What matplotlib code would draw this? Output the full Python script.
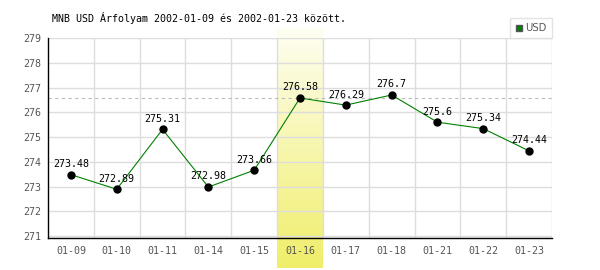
import numpy as np
import matplotlib
matplotlib.use("Agg")
from matplotlib import pyplot as plt
from matplotlib.lines import Line2D
from matplotlib.colors import LinearSegmentedColormap

dates = ["01-09", "01-10", "01-11", "01-14", "01-15", "01-16",
         "01-17", "01-18", "01-21", "01-22", "01-23"]
rates = [273.48, 272.89, 275.31, 272.98, 273.66, 276.58,
         276.29, 276.7, 275.6, 275.34, 274.44]
labels = ["273.48", "272.89", "275.31", "272.98", "273.66", "276.58",
          "276.29", "276.7", "275.6", "275.34", "274.44"]
highlight = 5
yticks = [271, 272, 273, 274, 275, 276, 277, 278, 279]

plt.rcParams['font.family'] = 'DejaVu Sans Mono'

fig = plt.figure(figsize=(6, 2.7), dpi=100)
ax = fig.add_axes([0.08, 0.1185, 0.84, 0.7405])

xs = np.arange(len(dates))
ymin, ymax = 270.92, 279
px = (ymax - ymin) / 200.0  # data units per pixel

# highlighted day column with a pale-to-yellow gradient, sticking out above and below
grad = np.linspace(0, 1, 100).reshape(-1, 1)
cmap = LinearSegmentedColormap.from_list("hl", ["#fefef2", "#f0ee6a"])
ax.imshow(grad, cmap=cmap, aspect="auto", origin="upper",
          extent=(highlight - 0.5, highlight + 0.5, ymin - 30 * px, ymax + 10 * px),
          clip_on=False, zorder=0)
ax.set_xlim(-0.5, len(dates) - 0.5)
ax.set_ylim(ymin, ymax)

# grid
for y in yticks:
    ax.axhline(y, color="#dddddd", lw=1, zorder=1)
for x in xs:
    ax.axvline(x + 0.5, color="#dddddd", lw=1, zorder=1)

ax.axhline(rates[highlight], color="#bbbbbb", lw=0.8, ls=(0, (3, 3)), zorder=2)

ax.plot(xs, rates, color="#008000", lw=0.8, zorder=3)
ax.plot(xs, rates, "o", color="black", ms=5, zorder=4)
for x, v, t in zip(xs, rates, labels):
    ax.annotate(t, (x, v), xytext=(0, 4), textcoords="offset points",
                ha="center", va="bottom", fontsize=7.2, color="black", zorder=5)

ax.set_xticks(xs)
ax.set_xticklabels(dates)
ax.set_yticks(yticks)
ax.tick_params(axis="both", length=0, labelsize=7.2, labelcolor="#555555")
ax.tick_params(axis="x", pad=6)
ax.tick_params(axis="y", pad=5)

for s in ["top", "right"]:
    ax.spines[s].set_visible(False)
for s in ["left", "bottom"]:
    ax.spines[s].set_color("black")
    ax.spines[s].set_linewidth(1)
    ax.spines[s].set_zorder(6)

fig.text(52 / 600, 1 - 18 / 270, "MNB USD Árfolyam 2002-01-09 és 2002-01-23 között.",
         fontsize=7.2, va="center", ha="left", color="black")

handle = Line2D([], [], marker="s", ls="none", markerfacecolor="#008000",
                markeredgecolor="#555555", markersize=5)
leg = ax.legend([handle], ["USD"], loc="lower right", bbox_to_anchor=(1.0, 1.0),
                borderaxespad=0, frameon=True, fancybox=False, fontsize=7.2,
                handlelength=0.8, handletextpad=0.3, borderpad=0.5)
leg.get_frame().set_edgecolor("#dddddd")
leg.get_frame().set_linewidth(1)
for t in leg.get_texts():
    t.set_color("#555555")
    t.set_family("DejaVu Sans")

fig.savefig("out.png", dpi=100)
